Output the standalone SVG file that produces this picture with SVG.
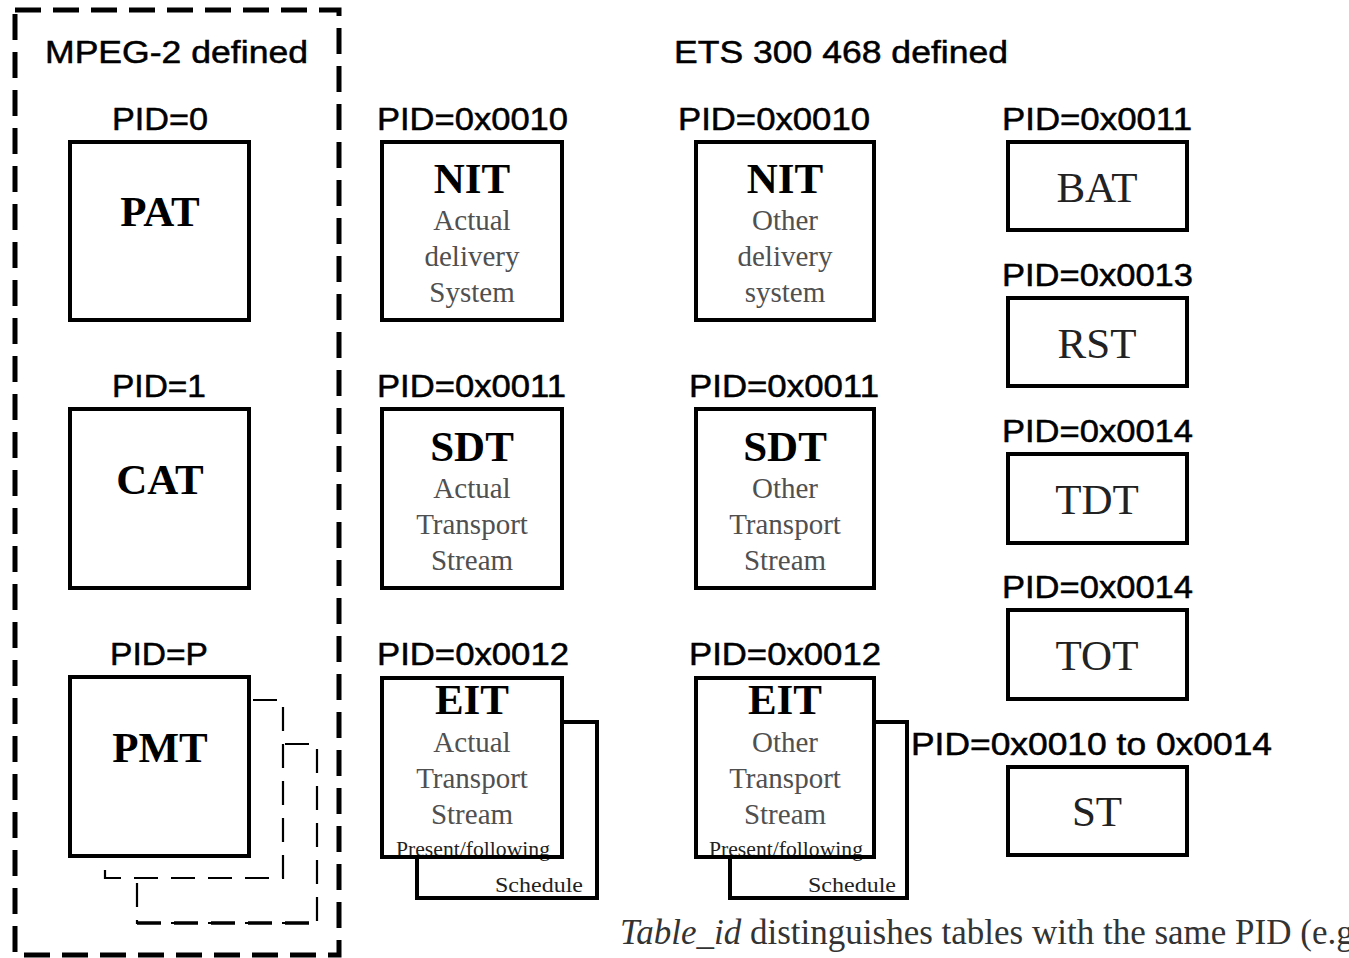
<svg xmlns="http://www.w3.org/2000/svg" width="1349" height="958" viewBox="0 0 1349 958">
<style>
.box{fill:#fff;stroke:#000;stroke-width:4}
.dash{fill:#fff;stroke:#000;stroke-width:2.2;stroke-dasharray:24 13}
.outer{fill:none;stroke:#000;stroke-width:5;stroke-dasharray:26 12}
.lbl{font-family:"Liberation Sans",Arial,sans-serif;font-size:31px;fill:#000;stroke:#000;stroke-width:0.5}
.ttl{font-family:"Liberation Serif","Times New Roman",serif;font-size:43px;font-weight:bold;fill:#000;text-anchor:middle}
.reg{font-family:"Liberation Serif","Times New Roman",serif;font-size:43px;fill:#222;text-anchor:middle}
.sub{font-family:"Liberation Serif","Times New Roman",serif;font-size:29px;fill:#505050;text-anchor:middle}
.sm{font-family:"Liberation Serif","Times New Roman",serif;font-size:22px;fill:#222}
.note{font-family:"Liberation Serif","Times New Roman",serif;font-size:35px;fill:#333}
</style>
<rect class="outer" x="15" y="10" width="324" height="945"/>
<text class="lbl" x="45" y="63" textLength="263" lengthAdjust="spacingAndGlyphs">MPEG-2 defined</text>
<text class="lbl" x="674" y="63" textLength="334" lengthAdjust="spacingAndGlyphs">ETS 300 468 defined</text>

<g id="pat">
<text class="lbl" x="112" y="130" textLength="96" lengthAdjust="spacingAndGlyphs">PID=0</text>
<rect class="box" x="70" y="142" width="179" height="178"/>
<text class="ttl" x="160" y="226">PAT</text>
</g>
<g id="cat">
<text class="lbl" x="112" y="397" textLength="94" lengthAdjust="spacingAndGlyphs">PID=1</text>
<rect class="box" x="70" y="409" width="179" height="179"/>
<text class="ttl" x="160" y="494">CAT</text>
</g>
<g id="pmt">
<text class="lbl" x="110" y="665" textLength="98" lengthAdjust="spacingAndGlyphs">PID=P</text>
<rect class="dash" x="137" y="744" width="180" height="179"/>
<line x1="137" y1="923" x2="317" y2="923" stroke="#000" stroke-width="3.5" stroke-dasharray="24 13"/>
<rect class="dash" x="105" y="700" width="178" height="178"/>
<rect class="box" x="70" y="677" width="179" height="179"/>
<text class="ttl" x="160" y="762">PMT</text>
</g>

<g id="nit-actual">
<text class="lbl" x="377" y="130" textLength="191" lengthAdjust="spacingAndGlyphs">PID=0x0010</text>
<rect class="box" x="382" y="142" width="180" height="178"/>
<text class="ttl" x="472" y="193">NIT</text>
<text class="sub" x="472" y="230">Actual</text>
<text class="sub" x="472" y="266">delivery</text>
<text class="sub" x="472" y="302">System</text>
</g>
<g id="nit-other">
<text class="lbl" x="678" y="130" textLength="192" lengthAdjust="spacingAndGlyphs">PID=0x0010</text>
<rect class="box" x="696" y="142" width="178" height="178"/>
<text class="ttl" x="785" y="193">NIT</text>
<text class="sub" x="785" y="230">Other</text>
<text class="sub" x="785" y="266">delivery</text>
<text class="sub" x="785" y="302">system</text>
</g>
<g id="sdt-actual">
<text class="lbl" x="377" y="397" textLength="189" lengthAdjust="spacingAndGlyphs">PID=0x0011</text>
<rect class="box" x="382" y="409" width="180" height="179"/>
<text class="ttl" x="472" y="461">SDT</text>
<text class="sub" x="472" y="498">Actual</text>
<text class="sub" x="472" y="534">Transport</text>
<text class="sub" x="472" y="570">Stream</text>
</g>
<g id="sdt-other">
<text class="lbl" x="689" y="397" textLength="190" lengthAdjust="spacingAndGlyphs">PID=0x0011</text>
<rect class="box" x="696" y="409" width="178" height="179"/>
<text class="ttl" x="785" y="461">SDT</text>
<text class="sub" x="785" y="498">Other</text>
<text class="sub" x="785" y="534">Transport</text>
<text class="sub" x="785" y="570">Stream</text>
</g>
<g id="eit-actual">
<text class="lbl" x="377" y="665" textLength="192" lengthAdjust="spacingAndGlyphs">PID=0x0012</text>
<rect class="box" x="417" y="722" width="180" height="176"/>
<text class="sm" x="495" y="892" textLength="88" lengthAdjust="spacingAndGlyphs">Schedule</text>
<rect class="box" x="382" y="678" width="180" height="179" style="stroke:none"/>
<text class="ttl" x="472" y="714">EIT</text>
<text class="sub" x="472" y="752">Actual</text>
<text class="sub" x="472" y="788">Transport</text>
<text class="sub" x="472" y="824">Stream</text>
<text class="sm" x="396" y="856" textLength="154" lengthAdjust="spacingAndGlyphs">Present/following</text>
<rect x="382" y="678" width="180" height="179" style="fill:none;stroke:#000;stroke-width:4"/>
</g>
<g id="eit-other">
<text class="lbl" x="689" y="665" textLength="192" lengthAdjust="spacingAndGlyphs">PID=0x0012</text>
<rect class="box" x="730" y="722" width="177" height="176"/>
<text class="sm" x="808" y="892" textLength="88" lengthAdjust="spacingAndGlyphs">Schedule</text>
<rect class="box" x="696" y="678" width="178" height="179" style="stroke:none"/>
<text class="ttl" x="785" y="714">EIT</text>
<text class="sub" x="785" y="752">Other</text>
<text class="sub" x="785" y="788">Transport</text>
<text class="sub" x="785" y="824">Stream</text>
<text class="sm" x="709" y="856" textLength="154" lengthAdjust="spacingAndGlyphs">Present/following</text>
<rect x="696" y="678" width="178" height="179" style="fill:none;stroke:#000;stroke-width:4"/>
</g>

<g id="bat">
<text class="lbl" x="1002" y="130" textLength="190" lengthAdjust="spacingAndGlyphs">PID=0x0011</text>
<rect class="box" x="1008" y="142" width="179" height="88"/>
<text class="reg" x="1097" y="202">BAT</text>
</g>
<g id="rst">
<text class="lbl" x="1002" y="286" textLength="191" lengthAdjust="spacingAndGlyphs">PID=0x0013</text>
<rect class="box" x="1008" y="298" width="179" height="88"/>
<text class="reg" x="1097" y="358">RST</text>
</g>
<g id="tdt">
<text class="lbl" x="1002" y="442" textLength="191" lengthAdjust="spacingAndGlyphs">PID=0x0014</text>
<rect class="box" x="1008" y="454" width="179" height="89"/>
<text class="reg" x="1097" y="514">TDT</text>
</g>
<g id="tot">
<text class="lbl" x="1002" y="598" textLength="191" lengthAdjust="spacingAndGlyphs">PID=0x0014</text>
<rect class="box" x="1008" y="610" width="179" height="89"/>
<text class="reg" x="1097" y="670">TOT</text>
</g>
<g id="st">
<text class="lbl" x="911" y="755" textLength="361" lengthAdjust="spacingAndGlyphs">PID=0x0010 to 0x0014</text>
<rect class="box" x="1008" y="767" width="179" height="88"/>
<text class="reg" x="1097" y="826">ST</text>
</g>
<g id="connectors"></g>
<text class="note" x="620" y="944"><tspan font-style="italic">Table_id</tspan> distinguishes tables with the same PID (e.g</text>
</svg>
